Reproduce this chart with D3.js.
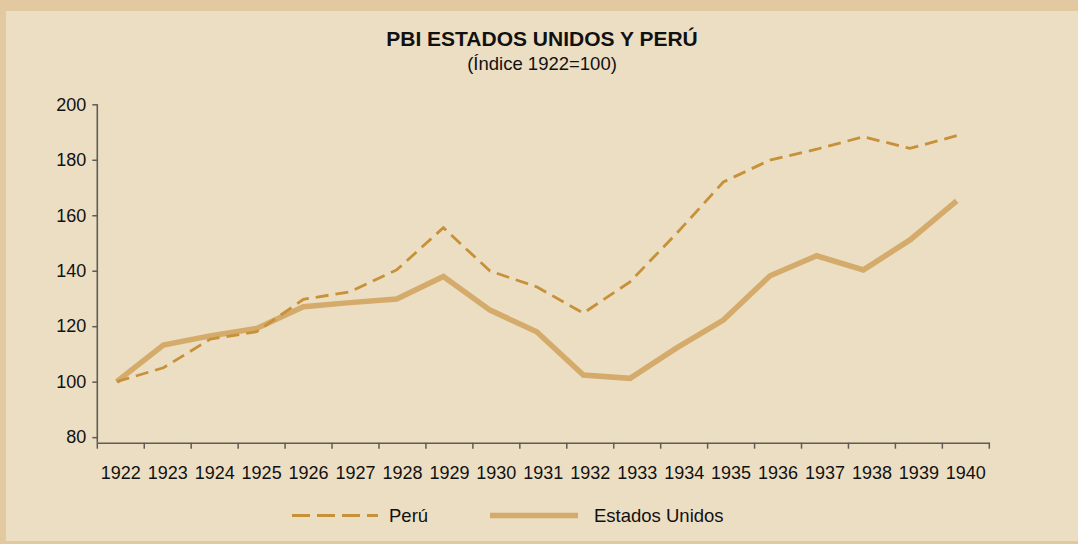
<!DOCTYPE html>
<html>
<head>
<meta charset="utf-8">
<script src="https://cdn.jsdelivr.net/npm/d3@7"></script>
<style>
  body { margin: 0; background: #e2c9a0; }
  svg { display: block; font-family: "Liberation Sans", Arial, sans-serif; }
</style>
</head>
<body>
<script>
// data
const years = [1922, 1923, 1924, 1925, 1926, 1927, 1928, 1929, 1930, 1931,
               1932, 1933, 1934, 1935, 1936, 1937, 1938, 1939, 1940];
const peru = [100, 105.0, 115.3, 118.0, 129.7, 132.4, 140.3, 155.5, 139.9, 134.2,
              124.7, 136.0, 153.5, 172.0, 179.9, 183.8, 188.3, 184.1, 188.7];
const eeuu = [100, 113.2, 116.5, 119.2, 127.0, 128.5, 129.8, 137.9, 125.8, 118.0,
              102.4, 101.2, 112.2, 122.2, 138.2, 145.4, 140.3, 151.1, 165.2];
const yTicks = [80, 100, 120, 140, 160, 180, 200];

const width = 1078, height = 544;

const svg = d3.select("body").append("svg")
    .attr("width", width)
    .attr("height", height);

// frame
svg.append("rect")
    .attr("width", width).attr("height", height)
    .attr("fill", "#e2c9a0");
svg.append("rect")
    .attr("x", 6).attr("y", 11)
    .attr("width", width - 6).attr("height", 530)
    .attr("fill", "#ecdec3");

// title
svg.append("text")
    .attr("x", 542).attr("y", 46)
    .attr("text-anchor", "middle")
    .style("font-size", "21px").style("font-weight", "bold")
    .attr("fill", "#111")
    .text("PBI ESTADOS UNIDOS Y PERÚ");
svg.append("text")
    .attr("x", 542).attr("y", 70)
    .attr("text-anchor", "middle")
    .style("font-size", "18.5px")
    .attr("fill", "#111")
    .text("(Índice 1922=100)");

// scales
const xBand = d3.scaleBand().domain(years).range([97.3, 989.3]);
const x = d3.scalePoint().domain(years).range([116.7, 956.7]);
const y = d3.scaleLinear().domain([78, 200]).range([442.7, 104.3]);

const axisColor = "#5f5b55";

// y axis
const yAxis = svg.append("g")
    .attr("transform", "translate(97.3,0)")
    .call(d3.axisLeft(y).tickValues(yTicks).tickSize(5).tickPadding(6));
yAxis.select(".domain").attr("d", "M0," + y(200) + "V442.7");

// x axis
const xAxis = svg.append("g")
    .attr("transform", "translate(0,442.7)")
    .call(d3.axisBottom(xBand).tickSize(0).tickPadding(23.5));
xAxis.selectAll(".tick-mark")
    .data(years.concat(["end"]))
    .enter().append("line")
    .attr("class", "tick-mark")
    .attr("x1", (d, i) => i < years.length ? xBand(d) : xBand.range()[1])
    .attr("x2", (d, i) => i < years.length ? xBand(d) : xBand.range()[1])
    .attr("y1", 0).attr("y2", 6)
    .attr("stroke", axisColor).attr("stroke-width", 1.5);

[yAxis, xAxis].forEach(a => {
    a.select(".domain").attr("stroke", axisColor).attr("stroke-width", 1.6);
    a.selectAll(".tick line").attr("stroke", axisColor).attr("stroke-width", 1.5);
    a.selectAll(".tick text")
        .style("font-size", "18px")
        .attr("fill", "#111")
        .style("font-family", "'Liberation Sans', Arial, sans-serif");
});

// lines
const line = d3.line()
    .x((d, i) => x(years[i]))
    .y(d => y(d));

svg.append("path")
    .datum(eeuu)
    .attr("d", line)
    .attr("fill", "none")
    .attr("stroke", "#d4ab6b")
    .attr("stroke-width", 5.5)
    .attr("stroke-linejoin", "miter");

svg.append("path")
    .datum(peru)
    .attr("d", line)
    .attr("fill", "none")
    .attr("stroke", "#c69139")
    .attr("stroke-width", 2.8)
    .attr("stroke-dasharray", "13,7");

// legend
const legend = svg.append("g");
legend.append("line")
    .attr("x1", 292).attr("x2", 378)
    .attr("y1", 515.5).attr("y2", 515.5)
    .attr("stroke", "#c69139").attr("stroke-width", 3)
    .attr("stroke-dasharray", "18,7");
legend.append("text")
    .attr("x", 389).attr("y", 522)
    .style("font-size", "18.5px").attr("fill", "#111")
    .text("Perú");
legend.append("line")
    .attr("x1", 490).attr("x2", 578)
    .attr("y1", 515.5).attr("y2", 515.5)
    .attr("stroke", "#d4ab6b").attr("stroke-width", 5.5);
legend.append("text")
    .attr("x", 594).attr("y", 522)
    .style("font-size", "18.5px").attr("fill", "#111")
    .text("Estados Unidos");
</script>
</body>
</html>
